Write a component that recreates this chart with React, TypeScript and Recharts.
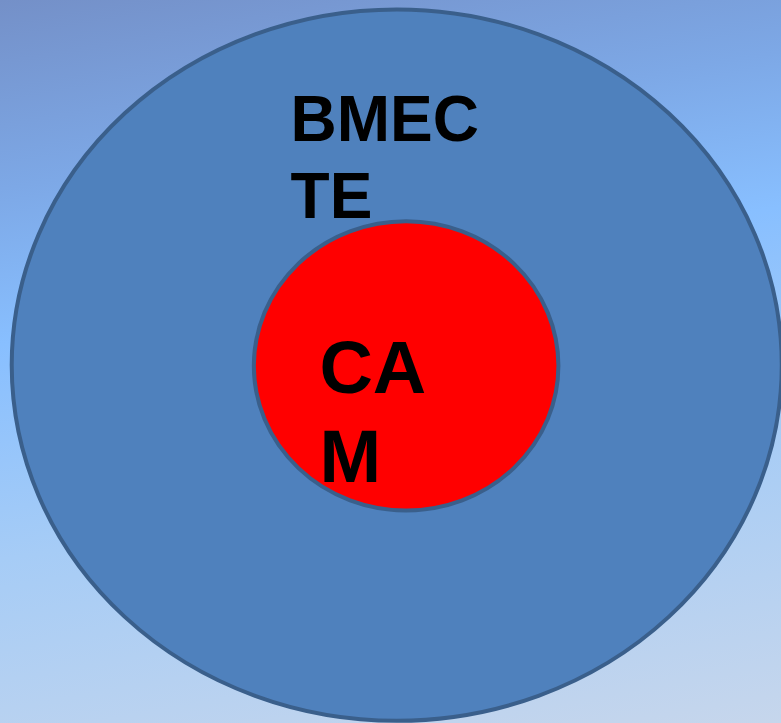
import React from "react";
import { Scatter, ScatterChart, XAxis, YAxis } from "recharts";

const W = 781;
const H = 723;

// circles, in percent of the drawing area
const circles = [
  { name: "BMECTE", x: 50.8, y: 50.5, rx: 49.3, ry: 49.2, fill: "#4F81BD" },
  { name: "CAM", x: 52.0, y: 50.6, rx: 19.5, ry: 20.0, fill: "#FF0000" },
];

// text anchors (left / first baseline), same units
const labels = [
  { x: 37.2, y: 19.5, lines: ["BMEC", "TE"], size: 64 },
  { x: 40.9, y: 54.4, lines: ["CA", "M"], size: 74 },
];

const Ellipse = (props: any) => {
  const { cx, cy, payload } = props;
  return (
    <ellipse
      cx={cx}
      cy={cy}
      rx={(payload.rx * W) / 100}
      ry={(payload.ry * H) / 100}
      fill={payload.fill}
      stroke="#3A5F8B"
      strokeWidth={4}
    />
  );
};

const Words = (props: any) => {
  const { cx, cy, payload } = props;
  return (
    <text
      x={cx}
      y={cy}
      fontFamily="'Liberation Sans', Arial, sans-serif"
      fontWeight="bold"
      fontSize={payload.size}
      fill="#000"
    >
      {payload.lines.map((l: string, i: number) => (
        <tspan key={l} x={cx} dy={i === 0 ? 0 : payload.size * 1.2}>
          {l}
        </tspan>
      ))}
    </text>
  );
};

export default function App() {
  return (
    <div
      style={{
        position: "absolute",
        top: 0,
        left: 0,
        width: W,
        height: H,
        overflow: "hidden",
        background:
          "linear-gradient(170deg, #7490C8 0%, #7DA8E6 22%, #88BFFF 40%, #A6CCF6 65%, #C6D6EC 100%)",
      }}
    >
      <ScatterChart width={W} height={H} margin={{ top: 0, right: 0, bottom: 0, left: 0 }}>
        <XAxis type="number" dataKey="x" domain={[0, 100]} hide />
        <YAxis type="number" dataKey="y" domain={[0, 100]} reversed hide />
        <Scatter data={circles} shape={Ellipse} isAnimationActive={false} />
        <Scatter data={labels} shape={Words} isAnimationActive={false} />
      </ScatterChart>
    </div>
  );
}
